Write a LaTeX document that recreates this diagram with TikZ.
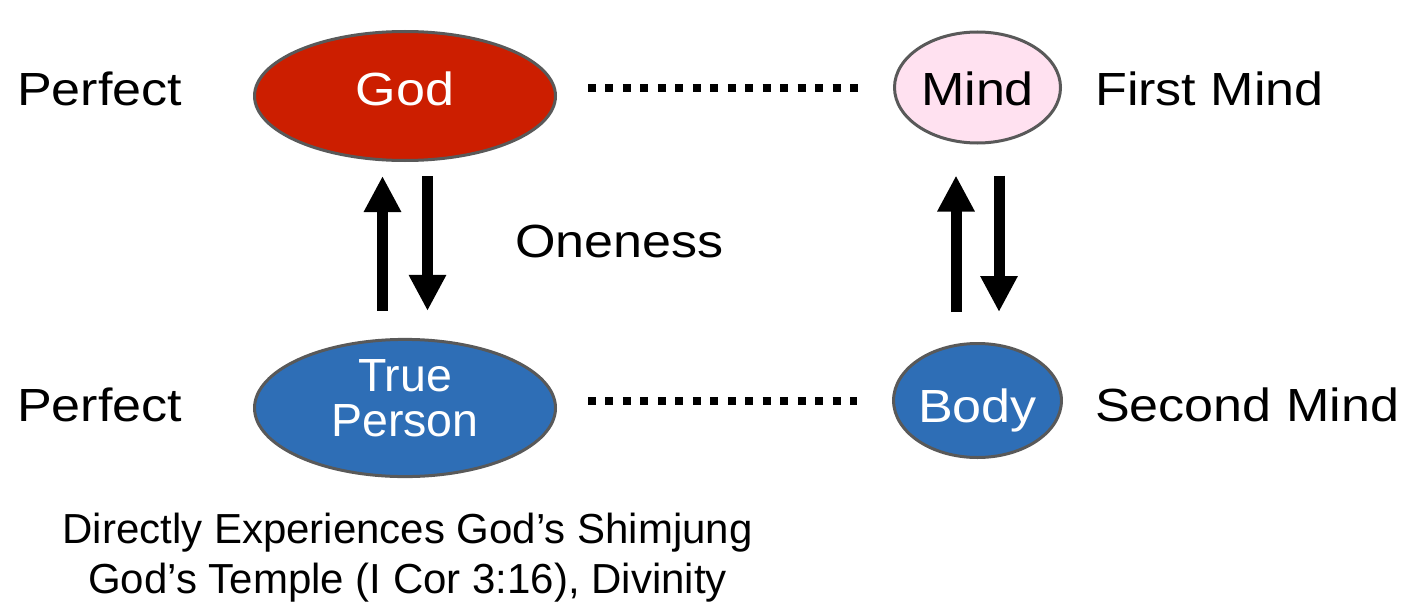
\documentclass[tikz,border=0pt]{standalone}
\usepackage{fontspec}
\setmainfont{Liberation Sans}[FakeStretch=1.12]
\newfontfamily\tpfont{Liberation Sans}
\usetikzlibrary{shapes.geometric,arrows.meta}
\definecolor{godred}{HTML}{CC1E00}
\definecolor{mindpink}{HTML}{FFE1F0}
\definecolor{bodyblue}{HTML}{2E6EB6}
\definecolor{rim}{HTML}{595959}
\begin{document}
\begin{tikzpicture}[x=1pt,y=-1pt,
  oval/.style={ellipse,draw=rim,line width=3pt,inner sep=0pt},
  bigfont/.style={font=\fontsize{46.5}{50}\selectfont},
  biglabel/.style={anchor=base west,inner sep=0pt,bigfont},
  updown/.style={line width=11pt,-{Triangle[width=35pt,length=36pt]}},
  dotline/.style={line width=8pt,dash pattern=on 8pt off 9.47pt}]
\useasboundingbox (0,0) rectangle (1408,602);
% ovals
\node[oval,fill=godred,minimum width=301pt,minimum height=129pt,text=white,bigfont,text height=34pt,text depth=14pt] (god) at (405,96) {God};
\node[oval,fill=mindpink,minimum width=166pt,minimum height=111pt,bigfont,text height=37pt,text depth=0pt] (mind) at (977.5,87.5) {Mind};
\node[oval,fill=bodyblue,minimum width=301pt,minimum height=135pt,text=white,align=center,font=\tpfont\fontsize{46.5}{45}\selectfont] (tp) at (405,408) {True\\Person\rule[-20pt]{0pt}{20pt}};
\node[oval,fill=bodyblue,minimum width=166pt,minimum height=114pt,text=white,bigfont,text height=43pt,text depth=0pt] (body) at (977.5,400.5) {Body};
% dotted links
\draw[dotline] ([xshift=31pt]god.east |- mind.center) -- ([xshift=-35pt]mind.west);
\draw[dotline] ([xshift=31pt]tp.east |- body.center) -- ([xshift=-35pt]body.west);
% arrows
\draw[updown,shorten <=27pt,shorten >=14pt] ([xshift=-22.5pt]tp.north) -- ([xshift=-22.5pt]god.south);
\draw[updown,shorten <=14pt,shorten >=27pt] ([xshift=22.5pt]god.south) -- ([xshift=22.5pt]tp.north);
\draw[updown,shorten <=30pt,shorten >=31pt] ([xshift=-21.5pt]body.north) -- ([xshift=-21.5pt]mind.south);
\draw[updown,shorten <=31pt,shorten >=30pt] ([xshift=21.5pt]mind.south) -- ([xshift=21.5pt]body.north);
% labels
\node[biglabel] (p1) at (17,105) {Perfect};
\node[biglabel] (p2) at (17,421) {Perfect};
\node[biglabel] (fm) at (1095,105) {First Mind};
\node[biglabel] (sm) at (1095,421) {Second Mind};
\node[biglabel] (one) at (515,257) {Oneness};
\node[align=center,inner sep=0pt,anchor=base,font=\tpfont\fontsize{42}{50}\selectfont] (note) at (407.5,593) {Directly Experiences God’s Shimjung\\God’s Temple (I Cor 3:16), Divinity};
\end{tikzpicture}
\end{document}
